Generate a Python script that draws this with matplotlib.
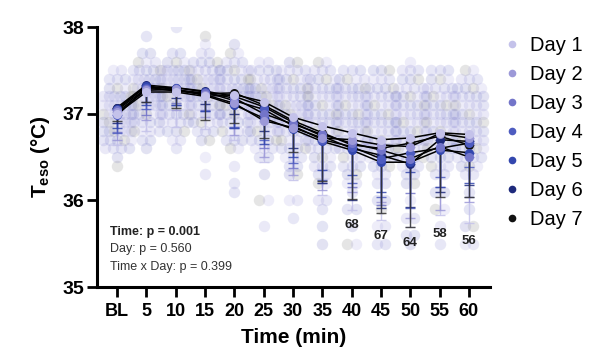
import numpy as np
import matplotlib.pyplot as plt
from matplotlib.lines import Line2D

plt.rcParams['font.family'] = ['Liberation Sans', 'DejaVu Sans']
plt.rcParams['mathtext.fontset'] = 'custom'
plt.rcParams['mathtext.rm'] = 'Liberation Sans'
plt.rcParams['mathtext.bf'] = 'Liberation Sans:bold'

# Time points
time_labels = ['BL', '5', '10', '15', '20', '25', '30', '35', '40', '45', '50', '55', '60']
day_names = ['Day 1', 'Day 2', 'Day 3', 'Day 4', 'Day 5', 'Day 6', 'Day 7']
day_colors = ['#c4c2ea', '#9c99d8', '#7375c9', '#4e5cc0', '#3347ae', '#1e2a7c', '#111111']
dot_colors = ['#aaa7e2', '#9693d8', '#8a88d2', '#7f81ce', '#7779c8', '#6e72c2', '#808080']

# Daily mean Teso per time point
day1_mean = [37.00, 37.25, 37.25, 37.20, 37.22, 37.14, 36.96, 36.86, 36.78, 36.70, 36.72, 36.78, 36.76]
day2_mean = [37.02, 37.27, 37.28, 37.22, 37.12, 36.92, 36.84, 36.72, 36.70, 36.64, 36.62, 36.77, 36.72]
day3_mean = [37.04, 37.29, 37.27, 37.24, 37.18, 37.00, 36.88, 36.76, 36.66, 36.58, 36.48, 36.62, 36.50]
day4_mean = [36.98, 37.30, 37.30, 37.25, 37.15, 37.05, 36.86, 36.70, 36.62, 36.48, 36.55, 36.60, 36.66]
day5_mean = [37.05, 37.32, 37.28, 37.21, 37.10, 36.95, 36.82, 36.68, 36.58, 36.44, 36.44, 36.58, 36.55]
day6_mean = [37.07, 37.33, 37.30, 37.26, 37.20, 37.08, 36.90, 36.74, 36.60, 36.52, 36.42, 36.70, 36.68]
day7_mean = [37.06, 37.31, 37.26, 37.23, 37.24, 37.10, 36.92, 36.78, 36.64, 36.60, 36.66, 36.74, 36.64]

# Lower SD per day
day1_sd = [0.36, 0.45, 0.40, 0.38, 0.52, 0.70, 0.73, 0.80, 0.89, 0.93, 1.03, 0.95, 1.02]
day2_sd = [0.32, 0.34, 0.24, 0.26, 0.37, 0.42, 0.55, 0.60, 0.60, 0.66, 0.82, 0.88, 0.74]
day3_sd = [0.25, 0.31, 0.15, 0.20, 0.35, 0.40, 0.51, 0.56, 0.51, 0.63, 0.40, 0.47, 0.46]
day4_sd = [0.20, 0.25, 0.20, 0.22, 0.30, 0.35, 0.43, 0.47, 0.42, 0.44, 0.64, 0.33, 0.28]
day5_sd = [0.22, 0.22, 0.18, 0.18, 0.27, 0.30, 0.32, 0.33, 0.29, 0.34, 0.11, 0.43, 0.35]
day6_sd = [0.18, 0.20, 0.12, 0.15, 0.20, 0.28, 0.30, 0.54, 0.60, 0.61, 0.50, 0.60, 0.50]
day7_sd = [0.15, 0.18, 0.20, 0.30, 0.35, 0.38, 0.36, 0.56, 0.62, 0.75, 0.97, 0.70, 0.60]

# Individual observations: top value per time and counts per 0.1 degC going down
dot_top = [37.5, 37.9, 38.0, 37.9, 37.8, 37.6, 37.6, 37.6, 37.5, 37.5, 37.6, 37.5, 37.5]
dot_counts = [
    [2, 3, 3, 6, 6, 6, 6, 6, 5, 4, 1, 1],
    [1, 0, 2, 3, 5, 6, 7, 6, 6, 5, 4, 4, 2, 1],
    [1, 0, 0, 2, 3, 6, 6, 6, 6, 5, 5, 4, 3, 2, 1],
    [1, 1, 2, 4, 5, 6, 6, 6, 5, 5, 4, 3, 2, 0, 1, 0, 1],
    [1, 2, 3, 5, 5, 6, 6, 6, 5, 4, 4, 3, 2, 0, 1, 0, 1, 1],
    [2, 4, 5, 6, 6, 6, 6, 5, 5, 4, 3, 2, 0, 1, 0, 0, 2, 0, 0, 1],
    [2, 4, 5, 5, 5, 6, 6, 5, 5, 4, 4, 3, 2, 2, 0, 0, 2, 0, 1],
    [2, 3, 4, 5, 5, 5, 5, 5, 5, 5, 4, 3, 3, 2, 2, 0, 2, 1, 0, 1, 0, 1],
    [3, 4, 5, 5, 5, 5, 5, 5, 5, 4, 3, 3, 2, 2, 1, 0, 2, 0, 1, 0, 2],
    [3, 3, 4, 5, 5, 5, 5, 5, 5, 5, 4, 3, 2, 2, 0, 2, 1, 0, 2, 0, 2],
    [1, 3, 3, 4, 5, 5, 5, 5, 5, 5, 4, 4, 3, 2, 2, 0, 1, 0, 2, 0, 2, 1],
    [3, 3, 4, 5, 5, 5, 5, 5, 4, 4, 3, 3, 2, 0, 2, 0, 2, 0, 1, 0, 1],
    [2, 3, 4, 5, 5, 5, 5, 5, 5, 5, 4, 3, 2, 0, 1, 0, 1, 0, 2, 0, 2],
]

# sample sizes shown under later time points
n_labels = ['68', '67', '64', '58', '56']
n_label_times = ['40', '45', '50', '55', '60']
n_label_y = [35.71, 35.59, 35.51, 35.61, 35.53]

stats_text = ['Time: p = 0.001', 'Day: p = 0.560', 'Time x Day: p = 0.399']

means = [day1_mean, day2_mean, day3_mean, day4_mean, day5_mean, day6_mean, day7_mean]
sds = [day1_sd, day2_sd, day3_sd, day4_sd, day5_sd, day6_sd, day7_sd]

fig = plt.figure(figsize=(6, 3.64), dpi=100)
ax = fig.add_axes([0.1617, 0.2115, 0.655, 0.7143])
x = np.arange(len(time_labels))

# scatter of individual values, spread in rows
k = 0
for i, (top, counts) in enumerate(zip(dot_top, dot_counts)):
    for j, n in enumerate(counts):
        if n == 0:
            continue
        val = round(top - 0.1 * j, 1)
        hw = min(0.47, 0.14 * (n - 1))
        offs = np.linspace(-hw, hw, n)
        for o in offs:
            c = dot_colors[k % 7]
            k += 1
            ax.scatter(x[i] + o, val, s=68, color=c, alpha=0.2, lw=0, zorder=1)
    k += 3

# lower error bars
for d in range(7):
    ax.errorbar(x, means[d], yerr=[sds[d], np.zeros(len(x))], fmt='none',
                ecolor=day_colors[d] if d < 6 else '#333333', elinewidth=1.0,
                capsize=3.5, capthick=1.0, zorder=2, alpha=0.85)

# mean lines
for d in range(7):
    ax.plot(x, means[d], color='black', lw=1.1, zorder=3)
for d in range(6, -1, -1):
    ax.plot(x, means[d], 'o', color=day_colors[d], ms=6.5, mec='none', zorder=4)

for lab, t, yv in zip(n_labels, n_label_times, n_label_y):
    ax.text(time_labels.index(t), yv, lab, ha='center', va='center',
            fontsize=9.5, fontweight='bold', color='#222222')

ax.text(0.033, 0.212, stats_text[0], transform=ax.transAxes, fontsize=9,
        fontweight='bold', color='#222222', va='center')
ax.text(0.033, 0.146, stats_text[1], transform=ax.transAxes, fontsize=9,
        color='#333333', va='center')
ax.text(0.033, 0.077, stats_text[2], transform=ax.transAxes, fontsize=9,
        color='#333333', va='center')

ax.set_xlim(-0.68, 12.72)
ax.set_ylim(35, 38)
ax.set_xticks(x)
ax.set_xticklabels(time_labels)
ax.set_yticks([35, 36, 37, 38])
for sp in ['top', 'right']:
    ax.spines[sp].set_visible(False)
for sp in ['left', 'bottom']:
    ax.spines[sp].set_linewidth(2.2)
ax.tick_params(axis='x', length=7.5, width=2.0, pad=4, labelsize=13)
ax.tick_params(axis='y', length=7, width=2.0, pad=2, labelsize=14)
for t in ax.get_xticklabels() + ax.get_yticklabels():
    t.set_fontweight('bold')

ax.set_xlabel('Time (min)', fontsize=15, fontweight='bold', labelpad=6)
ax.set_ylabel(r'$\mathbf{T_{eso}}$ (°C)', fontsize=15, fontweight='bold', labelpad=8)

handles = [Line2D([], [], marker='o', ls='none', color=c, ms=5.5, mec='none')
           for c in day_colors]
fig.legend(handles, day_names, loc='upper left', bbox_to_anchor=(0.84, 0.9),
           frameon=False, fontsize=14.5, handlelength=0.8, handletextpad=0.5,
           labelspacing=0.49, borderpad=0, borderaxespad=0)

plt.savefig('out.png', dpi=100)
